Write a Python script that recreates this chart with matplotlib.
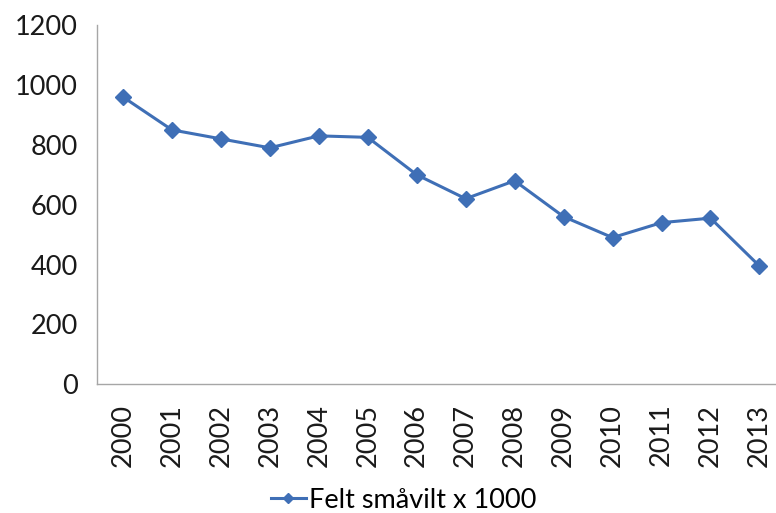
import matplotlib.pyplot as plt

plt.rcParams['font.family'] = ['Lato', 'DejaVu Sans']

years = ['2000', '2001', '2002', '2003', '2004', '2005', '2006',
         '2007', '2008', '2009', '2010', '2011', '2012', '2013']
felt = [960, 850, 820, 790, 830, 825, 700, 620, 680, 560, 490, 540, 555, 395]

LINE_COLOR = '#3F6FB6'
AXIS_COLOR = '#A6A6A6'

fig = plt.figure(figsize=(7.76, 5.13), dpi=100)
ax = fig.add_axes([0.125, 0.251, 0.877, 0.700])

x = list(range(len(years)))
ax.plot(x, felt, color=LINE_COLOR, linewidth=2.2, marker='D',
        markersize=8, markerfacecolor=LINE_COLOR, markeredgecolor=LINE_COLOR,
        label='Felt småvilt x 1000')

ax.set_xlim(-0.53, 13.37)
ax.set_ylim(0, 1200)
ax.set_yticks(range(0, 1201, 200))
ax.set_xticks(x)
ax.set_xticklabels(years, rotation=90)

for side in ('top', 'right'):
    ax.spines[side].set_visible(False)
for side in ('left', 'bottom'):
    ax.spines[side].set_color(AXIS_COLOR)
    ax.spines[side].set_linewidth(1.0)
ax.tick_params(axis='both', length=0, labelsize=19.5, colors='#1a1a1a')
ax.tick_params(axis='y', pad=14)
ax.tick_params(axis='x', pad=14)

fig.legend(loc='center', bbox_to_anchor=(0.52, 0.025), frameon=False,
           fontsize=19.5, handlelength=1.3, handletextpad=0.1,
           markerscale=0.6)

fig.savefig('out.png', dpi=100, facecolor='white')
